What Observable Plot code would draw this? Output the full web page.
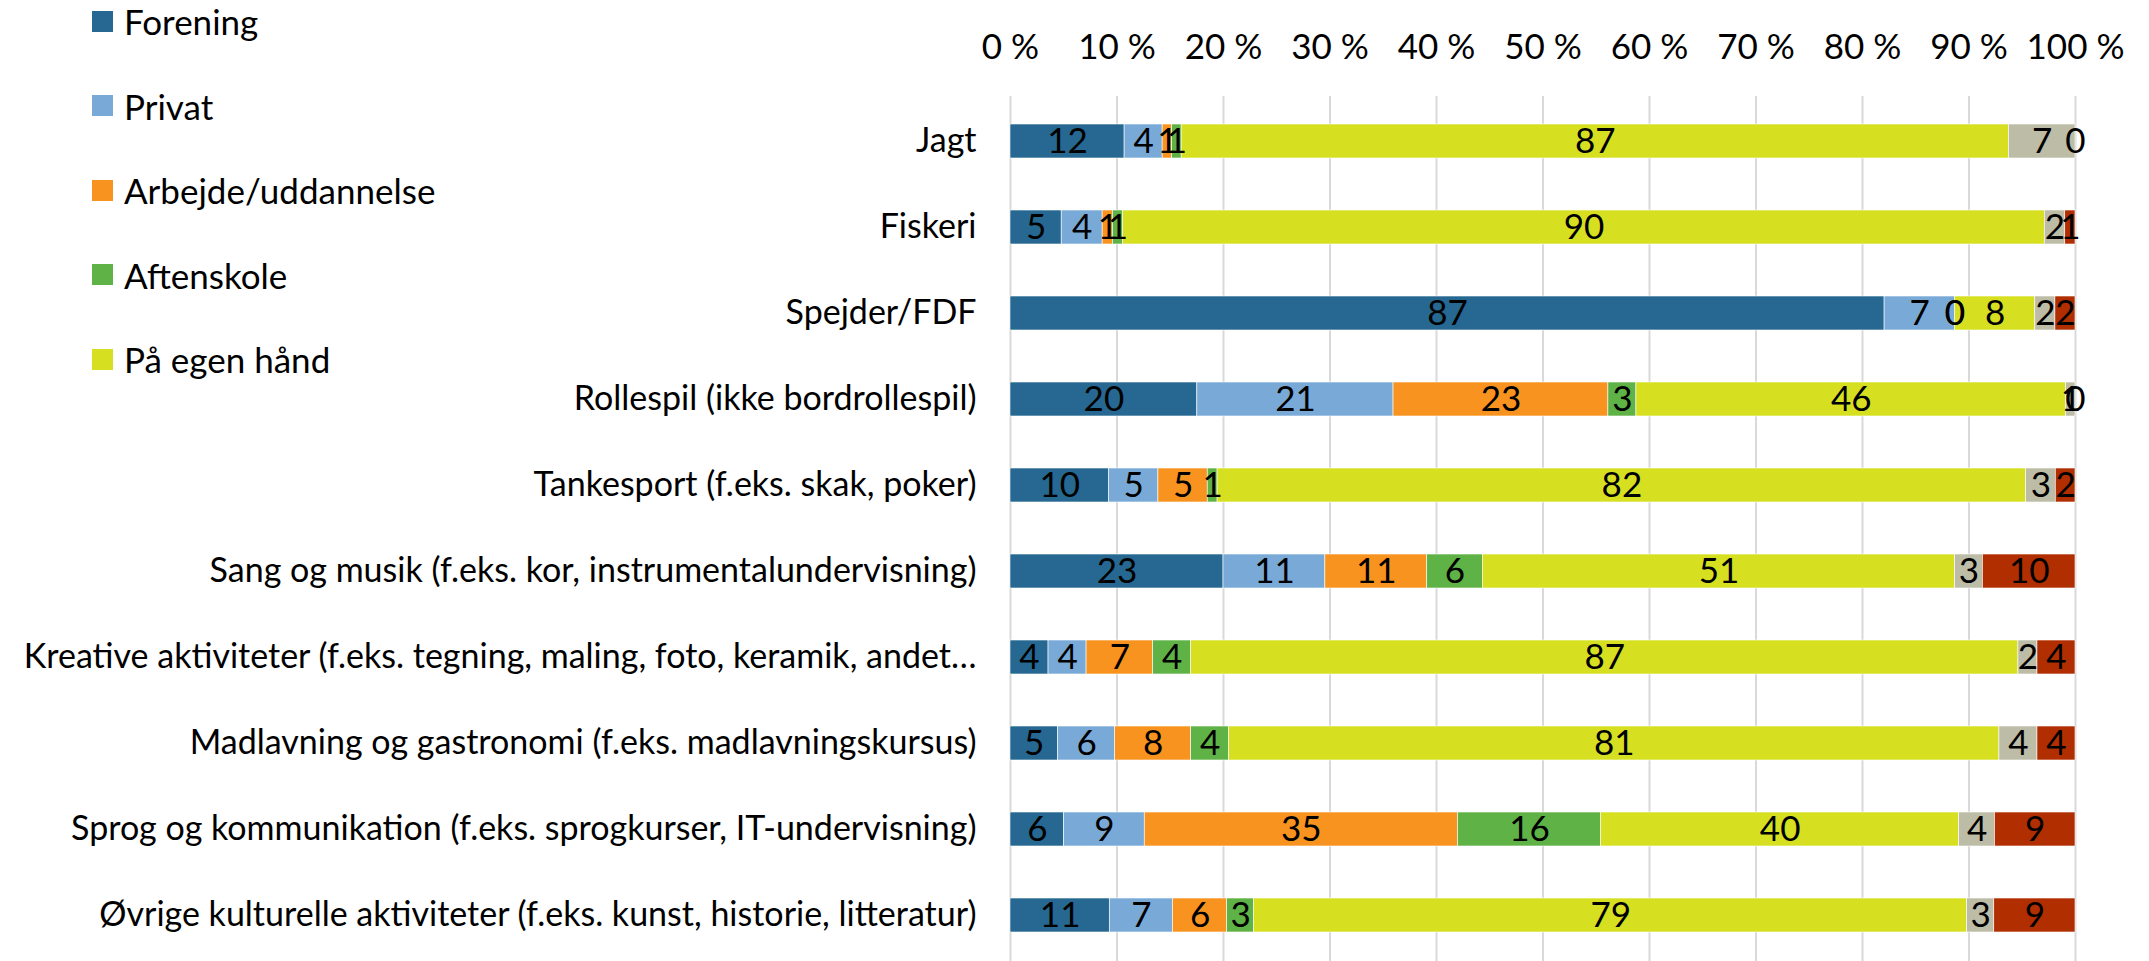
<!DOCTYPE html>
<html><head><meta charset="utf-8">
<script src="https://cdn.jsdelivr.net/npm/d3@7"></script>
<script src="https://cdn.jsdelivr.net/npm/@observablehq/plot@0.6"></script>
<style>
body{margin:0;background:#fff;font-family:Lato,sans-serif;}
#wrap{position:relative;width:2149px;height:961px;}
#legend{position:absolute;left:92px;top:0;}
.item{position:absolute;left:0;height:40px;display:flex;align-items:center;white-space:nowrap;font-size:35px;color:#000;}
.sw{width:21px;height:21px;margin-right:11px;flex:none;}
</style></head><body><div id="wrap"><div id="chart"></div><div id="legend"></div></div>
<script>
const categories = [
  "Jagt",
  "Fiskeri",
  "Spejder/FDF",
  "Rollespil (ikke bordrollespil)",
  "Tankesport (f.eks. skak, poker)",
  "Sang og musik (f.eks. kor, instrumentalundervisning)",
  "Kreative aktiviteter (f.eks. tegning, maling, foto, keramik, andet…",
  "Madlavning og gastronomi (f.eks. madlavningskursus)",
  "Sprog og kommunikation (f.eks. sprogkurser, IT-undervisning)",
  "Øvrige kulturelle aktiviteter (f.eks. kunst, historie, litteratur)"
];
const series = ["Forening", "Privat", "Arbejde/uddannelse", "Aftenskole", "På egen hånd", "Andet", "Ved ikke"];
const colors = ["#266892", "#79aad7", "#f7931e", "#5eb246", "#d6e021", "#bdbca6", "#b02e00"];
const forening   = [12, 5, 87, 20, 10, 23, 4, 5, 6, 11];
const privat     = [4, 4, 7, 21, 5, 11, 4, 6, 9, 7];
const arbejde    = [1, 1, 0, 23, 5, 11, 7, 8, 35, 6];
const aftenskole = [1, 1, 0, 3, 1, 6, 4, 4, 16, 3];
const egenHaand  = [87, 90, 8, 46, 82, 51, 87, 81, 40, 79];
const andet      = [7, 2, 2, 1, 3, 3, 2, 4, 4, 3];
const vedIkke    = [0, 1, 2, 0, 2, 10, 4, 4, 9, 9];
const xTickValues = [0, 0.1, 0.2, 0.3, 0.4, 0.5, 0.6, 0.7, 0.8, 0.9, 1];
const xTickLabels = ["0 %", "10 %", "20 %", "30 %", "40 %", "50 %", "60 %", "70 %", "80 %", "90 %", "100 %"];
const legendItems = ["Forening", "Privat", "Arbejde/uddannelse", "Aftenskole", "På egen hånd"];

const seriesValues = [forening, privat, arbejde, aftenskole, egenHaand, andet, vedIkke];
const data = [];
categories.forEach((c, i) => {
  series.forEach((s, j) => data.push({category: c, series: s, value: seriesValues[j][i]}));
});

const chart = Plot.plot({
  width: 2149,
  height: 961,
  marginLeft: 1010,
  marginRight: 74,
  marginTop: 96,
  marginBottom: 0,
  style: {fontFamily: "Lato, sans-serif", fontSize: "35px", color: "#000", background: "#fff"},
  x: {axis: "top", ticks: xTickValues, tickFormat: (d) => xTickLabels[xTickValues.indexOf(d)], tickSize: 0, tickPadding: 38, label: null},
  y: {domain: categories, paddingInner: 0.6, paddingOuter: 0.3},
  color: {domain: series, range: colors},
  marks: [
    Plot.gridX(xTickValues, {stroke: "#d9d9d9", strokeWidth: 2, strokeOpacity: 1}),
    Plot.axisY({tickSize: 0, tickPadding: 34, fontSize: 34, label: null}),
    Plot.barX(data, Plot.stackX({x: "value", y: "category", fill: "series", offset: "normalize", stroke: "#ffffff", strokeWidth: 0.6})),
    Plot.text(data, Plot.stackX({x: "value", y: "category", z: "series", offset: "normalize", text: (d) => String(d.value), fill: "#000", fontSize: 35}))
  ]
});
document.getElementById("chart").appendChild(chart);

const legend = document.getElementById("legend");
legendItems.forEach((name, i) => {
  const item = document.createElement("div");
  item.className = "item";
  item.style.top = (1 + i * 84.5) + "px";
  const sw = document.createElement("span");
  sw.className = "sw";
  sw.style.background = colors[series.indexOf(name)];
  const t = document.createElement("span");
  t.textContent = name;
  item.appendChild(sw);
  item.appendChild(t);
  legend.appendChild(item);
});
</script>
</body></html>
